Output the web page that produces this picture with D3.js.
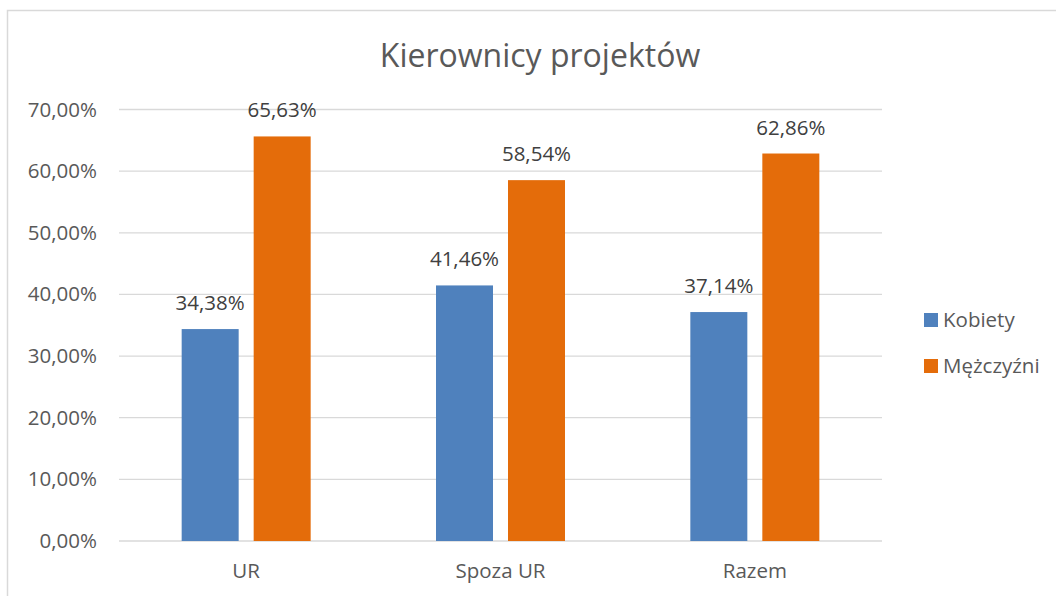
<!DOCTYPE html>
<html><head><meta charset="utf-8">
<script src="https://cdn.jsdelivr.net/npm/d3@7"></script>
<style>body{margin:0;background:#fff;} text{font-family:"Open Sans",sans-serif;}</style>
</head><body>
<svg id="c" width="1056" height="596"></svg>
<script>
const categories = ["UR", "Spoza UR", "Razem"];
const seriesNames = ["Kobiety", "Mężczyźni"];
const kobiety = [34.38, 41.46, 37.14];
const mezczyzni = [65.63, 58.54, 62.86];
const yTicks = [0, 10, 20, 30, 40, 50, 60, 70];
const colors = ["#4F81BD", "#E46C0A"];
const title = "Kierownicy projektów";

(function(){
const svg = d3.select("#c");
svg.append("rect").attr("x",7.5).attr("y",10.5).attr("width",1100).attr("height",700)
  .attr("fill","#fff").attr("stroke","#d9d9d9").attr("stroke-width",1.5);

const pL = 119, pR = 882, pT = 109.5, pB = 541;
const x = d3.scaleBand().domain(categories).range([pL, pR]);
const y = d3.scaleLinear().domain([0, 70]).range([pB, pT]);
const fmt = v => v.toFixed(2).replace(".", ",") + "%";
const fs = 20.5;

svg.append("g").selectAll("line").data(yTicks).join("line")
  .attr("x1", pL).attr("x2", pR)
  .attr("y1", d => y(d)).attr("y2", d => y(d))
  .attr("stroke", "#d9d9d9").attr("stroke-width", 1.3);

const yAxis = d3.axisLeft(y).tickValues(yTicks).tickFormat(d => fmt(d)).tickSize(0).tickPadding(22);
const ga = svg.append("g").attr("transform", `translate(${pL},0)`).call(yAxis);
ga.select(".domain").remove();
ga.selectAll("text").attr("font-size", fs).attr("fill", "#595959").attr("font-family", "Open Sans");

const xAxis = d3.axisBottom(x).tickSize(0).tickPadding(22);
const gx = svg.append("g").attr("transform", `translate(0,${pB})`).call(xAxis);
gx.select(".domain").remove();
gx.selectAll("text").attr("font-size", fs).attr("fill", "#595959").attr("font-family", "Open Sans");

const barW = 57, gap = 15;
const series = [kobiety, mezczyzni];
series.forEach((vals, si) => {
  const off = si === 0 ? -(gap/2 + barW) : gap/2;
  const g = svg.append("g");
  g.selectAll("rect").data(vals).join("rect")
    .attr("x", (d, i) => x(categories[i]) + x.bandwidth()/2 + off)
    .attr("y", d => y(d)).attr("width", barW).attr("height", d => pB - y(d))
    .attr("fill", colors[si]);
  g.selectAll("text").data(vals).join("text")
    .attr("x", (d, i) => x(categories[i]) + x.bandwidth()/2 + off + barW/2)
    .attr("y", d => y(d) - 19)
    .attr("text-anchor", "middle").attr("font-size", fs).attr("fill", "#404040")
    .text(d => fmt(d));
});

svg.append("text").attr("x", 540).attr("y", 67).attr("text-anchor", "middle")
  .attr("font-size", 32).attr("fill", "#595959").text(title);

const lg = svg.append("g");
seriesNames.forEach((n, i) => {
  const yy = 320 + i * 46;
  lg.append("rect").attr("x", 924).attr("y", yy - 7).attr("width", 14).attr("height", 14).attr("fill", colors[i]);
  lg.append("text").attr("x", 943).attr("y", yy).attr("dy", "0.35em")
    .attr("font-size", fs).attr("fill", "#595959").text(n);
});
})();
</script>
</body></html>
